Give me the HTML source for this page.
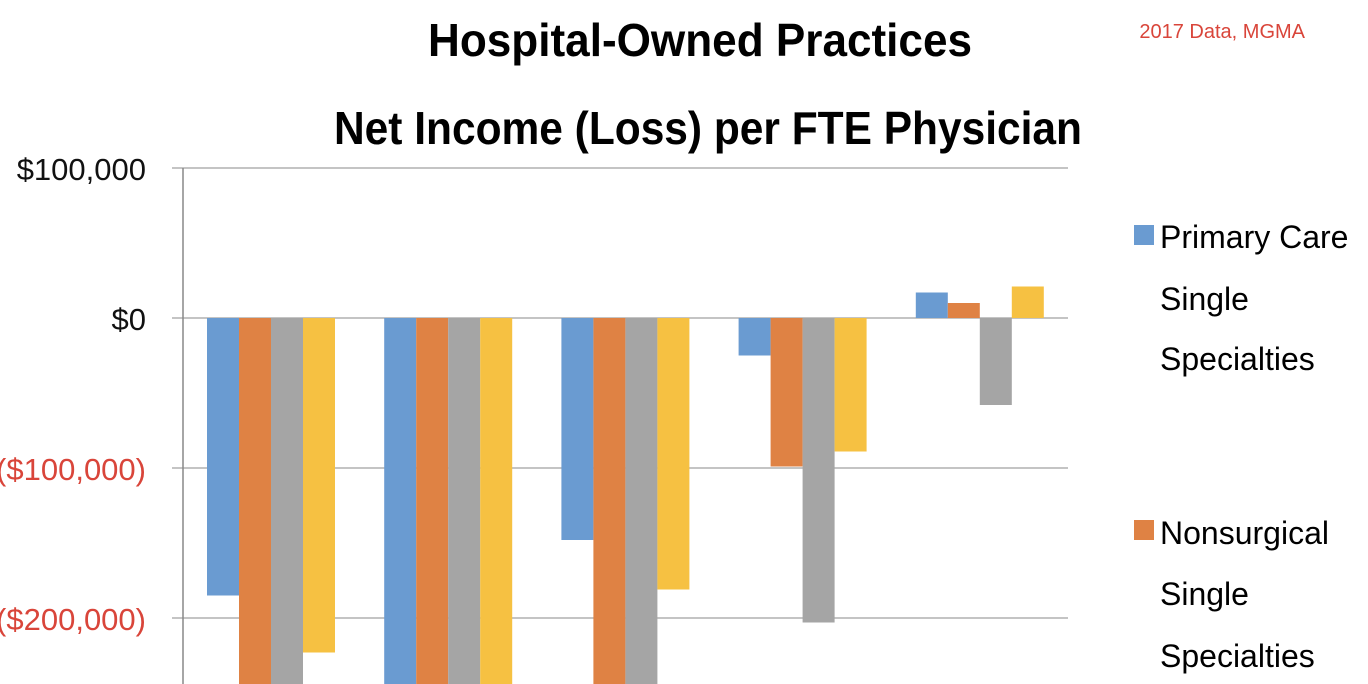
<!DOCTYPE html>
<html><head><meta charset="utf-8"><style>
html,body{margin:0;padding:0;background:#fff;}
svg{display:block;font-family:"Liberation Sans",sans-serif;}
</style></head><body>
<svg id="chart" width="1368" height="684" viewBox="0 0 1368 684">
<text x="700" y="56" text-anchor="middle" font-size="46" font-weight="bold" textLength="544" lengthAdjust="spacingAndGlyphs" fill="#000">Hospital-Owned Practices</text>
<text x="708" y="144" text-anchor="middle" font-size="46" font-weight="bold" textLength="748" lengthAdjust="spacingAndGlyphs" fill="#000">Net Income (Loss) per FTE Physician</text>
<text x="1305" y="38" text-anchor="end" font-size="20" fill="#d9453a">2017 Data, MGMA</text>
<g id="grid"></g>
<g id="bars"></g>
<g id="yaxis"></g>
<g>
<rect x="1134" y="225" width="20" height="20" fill="#6a9bd1"/>
<text font-size="32" fill="#000"><tspan x="1160" y="248">Primary Care</tspan><tspan x="1160" y="310">Single</tspan><tspan x="1160" y="370">Specialties</tspan></text>
<rect x="1134" y="520" width="20" height="20" fill="#df8244"/>
<text font-size="32" fill="#000"><tspan x="1160" y="544">Nonsurgical</tspan><tspan x="1160" y="605">Single</tspan><tspan x="1160" y="667">Specialties</tspan></text>
</g>
</svg>
<script>
const groups = ["G1","G2","G3","G4","G5"];
const seriesNames = ["Primary Care Single Specialties","Nonsurgical Single Specialties","Series 3","Series 4"];
const primaryCare = [-185000,-260000,-148000,-25000,17000];
const nonsurgical = [-260000,-260000,-260000,-99000,10000];
const series3 = [-260000,-260000,-260000,-203000,-58000];
const series4 = [-223000,-260000,-181000,-89000,21000];
const tickValues = [100000,0,-100000,-200000];
const tickLabels = ["$100,000","$0","($100,000)","($200,000)"];
const colors = ["#6a9bd1","#df8244","#a5a5a5","#f6c142"];
const NS="http://www.w3.org/2000/svg";
const y = v => 318 - v*150/100000;
const groupX = i => 207 + i*177.2;
const barW = 32;
function mk(tag, attrs, parent){const e=document.createElementNS(NS,tag);for(const k in attrs)e.setAttribute(k,attrs[k]);parent.appendChild(e);return e;}
const grid=document.getElementById('grid'), bars=document.getElementById('bars'), yaxis=document.getElementById('yaxis');
tickValues.forEach((v,i)=>{
  const l=mk('line',{x1:172,x2:1068,y1:y(v),y2:y(v),stroke:'#b0b0b0','stroke-width':1.5},grid);
  
  
  const t=mk('text',{x:146,y:y(v)+12,'text-anchor':'end','font-size':31,fill:v<0?'#d9453a':'#111'},yaxis);
  t.textContent=tickLabels[i];
  
  
});
const all=[primaryCare,nonsurgical,series3,series4];
all.forEach((s,si)=>{
  s.forEach((v,gi)=>{
    const x=groupX(gi)+si*barW;
    const top=Math.min(y(v),y(0)), h=Math.abs(y(v)-y(0));
    const r=mk('rect',{x:x,y:top,width:barW,height:h,fill:colors[si]},bars);
    
    
  });
});
const ax=mk('line',{x1:183,x2:183,y1:168,y2:684,stroke:'#888','stroke-width':1.5},yaxis);


</script>
</body></html>
